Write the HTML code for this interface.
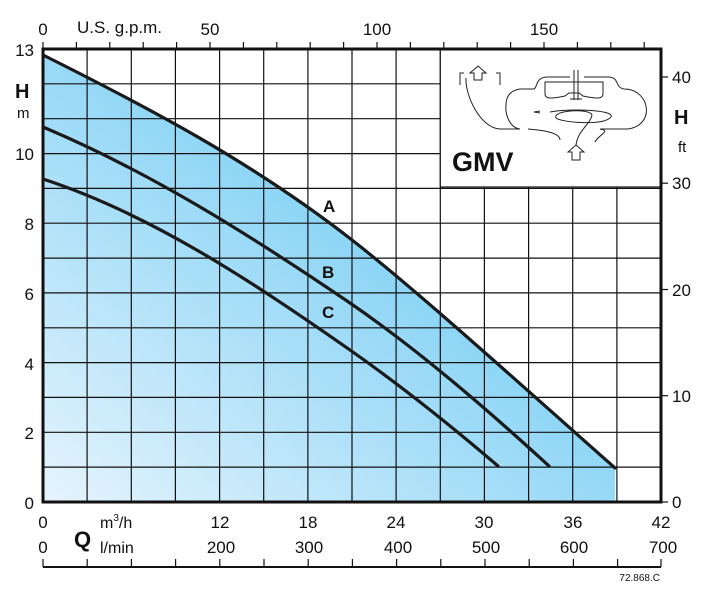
<!DOCTYPE html>
<html><head><meta charset="utf-8"><style>
body{margin:0;background:#fff}
svg text{font-family:"Liberation Sans",Arial,sans-serif;fill:#111}
</style></head><body>
<svg width="715" height="589" viewBox="0 0 715 589" xmlns="http://www.w3.org/2000/svg">
<defs>
<linearGradient id="g" x1="0" y1="1" x2="1" y2="0">
<stop offset="0" stop-color="#e6f4fd"/>
<stop offset="0.55" stop-color="#8fd6f6"/>
<stop offset="1" stop-color="#4cc3f0"/>
</linearGradient>
</defs>
<path d="M43,55 C150,108.5 252,162 352,240 C420,293 530,393 615,468 L615,502 L43,502 Z" fill="url(#g)"/>
<g stroke="#111" stroke-width="1.2">
<line x1="87.1" y1="49" x2="87.1" y2="502"/><line x1="131.3" y1="49" x2="131.3" y2="502"/>
<line x1="175.4" y1="49" x2="175.4" y2="502"/><line x1="219.6" y1="49" x2="219.6" y2="502"/>
<line x1="263.7" y1="49" x2="263.7" y2="502"/><line x1="307.9" y1="49" x2="307.9" y2="502"/>
<line x1="352" y1="49" x2="352" y2="502"/><line x1="396.1" y1="49" x2="396.1" y2="502"/>
<line x1="440.3" y1="49" x2="440.3" y2="502"/><line x1="484.4" y1="187" x2="484.4" y2="502"/>
<line x1="528.6" y1="187" x2="528.6" y2="502"/><line x1="572.7" y1="187" x2="572.7" y2="502"/>
<line x1="616.9" y1="187" x2="616.9" y2="502"/>
<line x1="43" y1="83.8" x2="440" y2="83.8"/><line x1="43" y1="118.7" x2="440" y2="118.7"/>
<line x1="43" y1="153.6" x2="440" y2="153.6"/>
<line x1="43" y1="188.4" x2="661" y2="188.4"/><line x1="43" y1="223.2" x2="661" y2="223.2"/>
<line x1="43" y1="258.1" x2="661" y2="258.1"/><line x1="43" y1="292.9" x2="661" y2="292.9"/>
<line x1="43" y1="327.8" x2="661" y2="327.8"/><line x1="43" y1="362.6" x2="661" y2="362.6"/>
<line x1="43" y1="397.4" x2="661" y2="397.4"/><line x1="43" y1="432.3" x2="661" y2="432.3"/>
<line x1="43" y1="467.1" x2="661" y2="467.1"/>
</g>
<rect x="440.3" y="49" width="220.7" height="138" fill="#fff" stroke="#111" stroke-width="1.2"/>
<rect x="43" y="49" width="618" height="453" fill="none" stroke="#111" stroke-width="3"/>
<g fill="none" stroke="#1a1a1a" stroke-width="3.2" stroke-linecap="round" stroke-linejoin="round">
<path d="M43,55 C150,108.5 252,162 352,240 C420,293 530,393 615,468"/>
<path d="M43,127 C150,172 250,235 350,303 C420,351 490,412 549,466"/>
<path d="M43,179 C150,214 250,280 350,350 C400,385 450,425 498,466"/>
</g>
<g font-weight="bold" font-size="17">
<text x="323" y="212">A</text><text x="322" y="278">B</text><text x="322" y="318">C</text>
</g>
<text x="452" y="171" font-size="27" font-weight="bold">GMV</text>
<g fill="none" stroke="#222" stroke-width="1">
<path d="M460,85 v-12 h4 M500,85 v-12 h-4 M474,80 v-7 h-4 l8,-7 l8,7 h-4 v7 z"/>
<path d="M466,78 C465,95 480,128 500,129 L520,129 C510,128 505,115 506,105 C506,95 512,90 520,89 L534,89 C538,87 535,77 548,77 L570,77 M584,77 L608,77 C620,77 614,87 624,89 C650,89 656,125 628,129 L600,129 C612,131 598,135 595,142"/>
<path d="M545,82 h58 v12 c0,5 -6,5 -20,2 l-4,-3 h-10 l-4,3 c-14,3 -20,3 -20,-2 z"/>
<path d="M574,70 v30 M578,70 v30 M570,99 h12 M550,112 C570,108 620,110 610,118 C600,126 560,122 556,118 C552,110 590,108 592,115 C590,125 578,130 576,145"/>
<path d="M528,129 C540,130 560,132 560,140 M540,111 l-6,1 l6,1"/>
<path d="M572,160 v-8 h-4 l8,-7 l8,7 h-4 v8 z"/>
</g>
<g font-size="17" text-anchor="end">
<text x="34" y="56">13</text><text x="34" y="160">10</text><text x="34" y="230">8</text>
<text x="34" y="300">6</text><text x="34" y="370">4</text><text x="34" y="439">2</text><text x="34" y="509">0</text>
</g>
<text x="15" y="98" font-size="20" font-weight="bold">H</text>
<text x="17" y="118" font-size="15">m</text>
<g stroke="#111" stroke-width="1.2">
<line x1="661" y1="77" x2="668" y2="77"/><line x1="661" y1="183.2" x2="668" y2="183.2"/>
<line x1="661" y1="289.5" x2="668" y2="289.5"/><line x1="661" y1="395.7" x2="668" y2="395.7"/>
<line x1="661" y1="502" x2="668" y2="502"/>
</g>
<g font-size="17">
<text x="672" y="83">40</text><text x="672" y="189">30</text><text x="672" y="296">20</text>
<text x="672" y="402">10</text><text x="672" y="508">0</text>
</g>
<text x="674" y="124" font-size="20" font-weight="bold">H</text>
<text x="678" y="152" font-size="15">ft</text>
<g stroke="#111" stroke-width="1.2">
<line x1="43" y1="42" x2="43" y2="49"/><line x1="76.4" y1="42" x2="76.4" y2="49"/><line x1="109.8" y1="42" x2="109.8" y2="49"/>
<line x1="143.2" y1="42" x2="143.2" y2="49"/><line x1="176.6" y1="42" x2="176.6" y2="49"/><line x1="210" y1="42" x2="210" y2="49"/>
<line x1="243.4" y1="42" x2="243.4" y2="49"/><line x1="276.8" y1="42" x2="276.8" y2="49"/><line x1="310.2" y1="42" x2="310.2" y2="49"/>
<line x1="343.6" y1="42" x2="343.6" y2="49"/><line x1="377" y1="42" x2="377" y2="49"/><line x1="410.4" y1="42" x2="410.4" y2="49"/>
<line x1="443.8" y1="42" x2="443.8" y2="49"/><line x1="477.2" y1="42" x2="477.2" y2="49"/><line x1="510.6" y1="42" x2="510.6" y2="49"/>
<line x1="544" y1="42" x2="544" y2="49"/><line x1="577.4" y1="42" x2="577.4" y2="49"/><line x1="610.8" y1="42" x2="610.8" y2="49"/>
<line x1="644.2" y1="42" x2="644.2" y2="49"/>
</g>
<g font-size="17" text-anchor="middle">
<text x="43" y="35">0</text><text x="210" y="35">50</text><text x="377" y="35">100</text><text x="544" y="35">150</text>
</g>
<text x="77" y="33" font-size="17">U.S. g.p.m.</text>
<g font-size="17" text-anchor="middle">
<text x="43" y="528">0</text><text x="220" y="528">12</text><text x="308" y="528">18</text><text x="396" y="528">24</text>
<text x="484" y="528">30</text><text x="573" y="528">36</text><text x="661" y="528">42</text>
<text x="43" y="553">0</text><text x="221" y="553">200</text><text x="309" y="553">300</text><text x="398" y="553">400</text>
<text x="486" y="553">500</text><text x="574" y="553">600</text><text x="663" y="553">700</text>
</g>
<text x="74" y="547" font-size="22" font-weight="bold">Q</text>
<text x="100" y="528" font-size="16">m<tspan font-size="10" dy="-7">3</tspan><tspan dy="7">/h</tspan></text>
<text x="100" y="553" font-size="16">l/min</text>
<g stroke="#111" stroke-width="1.2">
<line x1="43" y1="567" x2="661" y2="567" stroke-width="2"/>
<line x1="43" y1="559" x2="43" y2="567"/><line x1="87.2" y1="559" x2="87.2" y2="567"/><line x1="131.4" y1="559" x2="131.4" y2="567"/>
<line x1="175.6" y1="559" x2="175.6" y2="567"/><line x1="219.8" y1="559" x2="219.8" y2="567"/><line x1="264" y1="559" x2="264" y2="567"/>
<line x1="308.2" y1="559" x2="308.2" y2="567"/><line x1="352.4" y1="559" x2="352.4" y2="567"/><line x1="396.6" y1="559" x2="396.6" y2="567"/>
<line x1="440.8" y1="559" x2="440.8" y2="567"/><line x1="485" y1="559" x2="485" y2="567"/><line x1="529.2" y1="559" x2="529.2" y2="567"/>
<line x1="573.4" y1="559" x2="573.4" y2="567"/><line x1="617.6" y1="559" x2="617.6" y2="567"/><line x1="661" y1="559" x2="661" y2="567"/>
</g>
<text x="660" y="581" font-size="10" text-anchor="end">72.868.C</text>
</svg>
</body></html>
